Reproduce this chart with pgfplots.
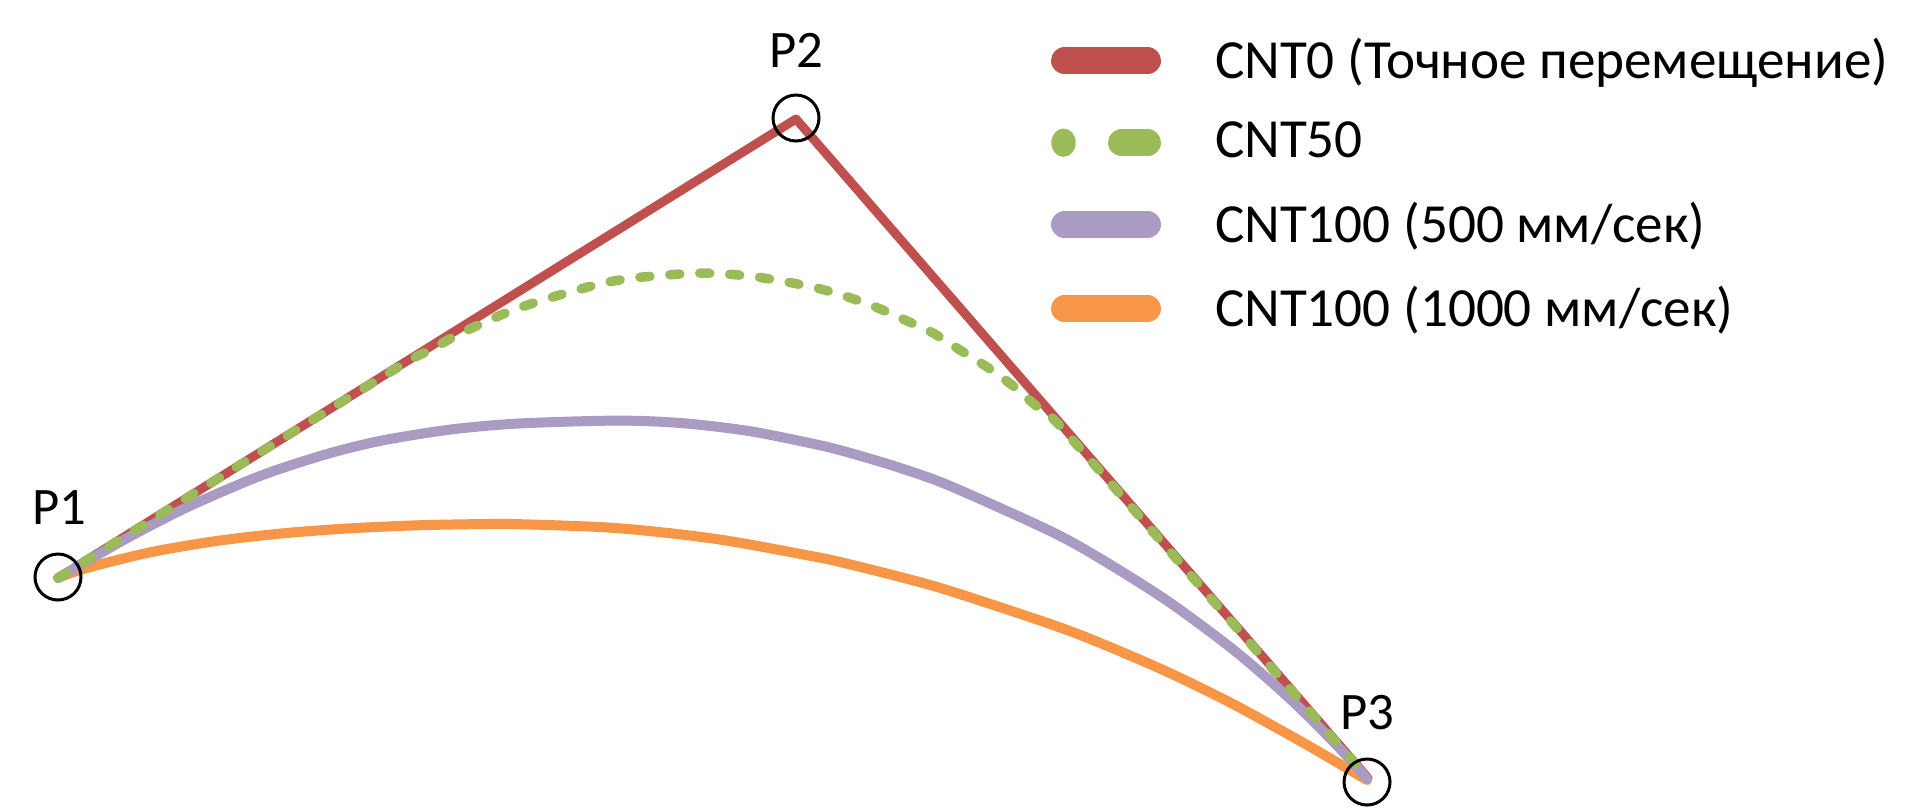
\documentclass[border=0pt]{standalone}
\usepackage{fontspec}
\setmainfont{Carlito}
\usepackage{pgfplots}
\pgfplotsset{compat=1.18}
\definecolor{cred}{HTML}{C0504D}
\definecolor{cgreen}{HTML}{9BBB59}
\definecolor{cpurple}{HTML}{A99BC2}
\definecolor{corange}{HTML}{F79646}
\begin{document}
\begin{tikzpicture}
\begin{axis}[
  hide axis, scale only axis,
  width=19.2cm, height=8.07cm,
  xmin=0, xmax=1920, ymin=0, ymax=807,
  y dir=reverse, clip=false,
  legend cell align=left,
  legend style={draw=none, fill=none, inner sep=0pt, outer sep=0pt,
    at={(axis cs:1051,38)}, anchor=north west,
    font=\fontsize{15.7}{18}\selectfont,
    row sep=0.385cm,
    nodes={inner sep=0pt},
    /tikz/every odd column/.append style={column sep=0.54cm}},
]
% point circles
\addplot[only marks, mark=o, mark size=0.23cm, mark options={line width=0.03cm, draw=black}, forget plot]
  coordinates {(58,577) (796,118) (1367,782)};
% CNT100 (1000)
\addplot[corange, line width=0.1cm, smooth, tension=0.5, line cap=round, forget plot] coordinates {
 (58,578) (83,569) (150,552.3) (217,540.9) (283,533.3) (350,528.3) (417,525.3) (478,524.1) (517,524.1)
 (617,528.1) (717,539.1) (817,557.1) (850,564.4) (900,576.9) (950,590.9) (1050,623.9) (1100,642.9)
 (1167,671.7) (1233,704) (1300,740.9) (1333,760) (1367,780)};
% CNT0
\addplot[cred, line width=0.09cm, line join=round, line cap=round, forget plot] coordinates {
 (58,578) (796,119) (1368,778)};
% CNT100 (500)
\addplot[cpurple, line width=0.1cm, smooth, tension=0.5, line cap=round, forget plot] coordinates {
 (58,578) (122,540.9) (183,509.2) (245,481.9) (283,467.8) (333,452.3) (383,440.3) (450,429.6)
 (517,423.6) (617,420.6) (683,423.2) (750,431.2) (817,444.6) (850,452.9) (900,467.9)
 (950,485.9) (1050,530.9) (1100,558.4) (1167,600.6) (1233,649.4) (1283,692.4) (1317,725)
 (1350,759.3) (1367,779)};
% CNT50
\addplot[cgreen, line width=0.095cm, smooth, tension=0.4, line cap=round,
  dash pattern=on 0.1cm off 0.2cm, forget plot] coordinates {
 (58,578) (230,471) (400,366) (430,350) (457,335) (485,322) (513,310) (543,300) (570,292)
 (603,283) (633,278) (667,275) (697,273) (727,274) (757,277) (787,282) (817,288)
 (848,297) (878,308) (905,320) (933,333) (960,350) (987,367) (1012,385) (1035,405)
 (1062,428) (1215,603) (1368,778)};
% legend
\addlegendimage{cred, legend image code/.code={\draw[cred, line width=0.27cm, line cap=round] (0.135cm,0cm) -- (0.965cm,0cm);}}
\addlegendentry{CNT0 (Точное перемещение)}
\addlegendimage{cgreen, legend image code/.code={\fill[cgreen] (0.125cm,0cm) ellipse [x radius=0.115cm, y radius=0.135cm]; \draw[cgreen, line width=0.27cm, line cap=round] (0.705cm,0cm) -- (0.965cm,0cm);}}
\addlegendentry{CNT50}
\addlegendimage{cpurple, legend image code/.code={\draw[cpurple, line width=0.27cm, line cap=round] (0.135cm,0cm) -- (0.965cm,0cm);}}
\addlegendentry{CNT100 (500 мм/сек)}
\addlegendimage{corange, legend image code/.code={\draw[corange, line width=0.27cm, line cap=round] (0.135cm,0cm) -- (0.965cm,0cm);}}
\addlegendentry{CNT100 (1000 мм/сек)}
% labels
\node[font=\fontsize{15}{18}\selectfont] at (axis cs:59,508) {P1};
\node[font=\fontsize{15}{18}\selectfont] at (axis cs:796,50) {P2};
\node[font=\fontsize{15}{18}\selectfont] at (axis cs:1367,713) {P3};
\path (rel axis cs:0,0) rectangle (rel axis cs:1,1);
\end{axis}
\end{tikzpicture}
\end{document}
